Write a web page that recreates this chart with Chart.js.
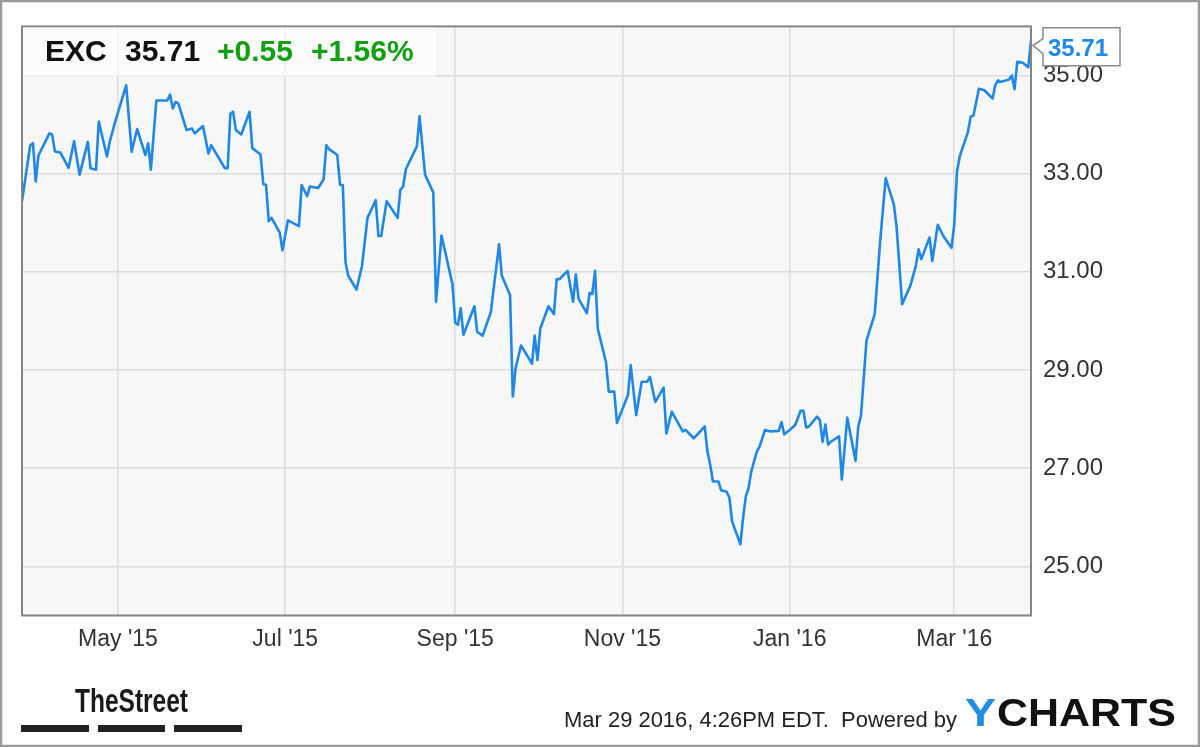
<!DOCTYPE html>
<html><head><meta charset="utf-8">
<script src="https://cdn.jsdelivr.net/npm/chart.js@4.4.0/dist/chart.umd.min.js"></script>
<style>html,body{margin:0;padding:0;background:#fff}#wrap{width:1200px;height:747px;position:relative}</style>
</head><body><div id="wrap"><canvas id="c" width="1200" height="747"></canvas></div>
<script>
// ---- data (days counted from 2015-03-27) ----
const ticker = 'EXC';
const lastPriceText = '35.71';
const changeText = '+0.55';
const changePctText = '+1.56%';
const days = [0,3,4,5,6,10,11,12,14,17,19,21,24,25,27,28,31,32,34,38,40,42,45,46,47,49,53,54,55,56,57,60,62,63,66,68,69,74,75,76,77,78,80,83,84,87,88,89,90,91,94,95,97,101,102,104,105,108,110,111,112,115,116,117,118,119,122,124,126,129,130,131,133,137,138,139,140,143,144,145,147,150,151,153,157,158,159,160,161,165,166,168,171,172,174,175,178,179,180,182,186,187,188,189,192,194,195,196,199,201,202,203,206,207,208,209,210,213,214,216,217,221,222,224,226,228,229,231,234,235,237,241,242,245,249,250,251,252,254,255,257,258,259,260,262,263,264,265,266,268,269,271,273,276,277,278,280,282,284,285,286,287,290,291,292,293,294,295,298,299,301,304,305,306,308,311,313,315,318,319,321,324,326,327,328,331,332,334,336,339,340,341,342,345,346,347,349,351,354,355,356,357,360,361,362,363,365,367,368];
const prices = [32.44,33.58,33.62,32.84,33.37,33.82,33.80,33.45,33.43,33.12,33.66,32.98,33.65,33.11,33.08,34.06,33.35,33.65,34.06,34.80,33.45,33.91,33.38,33.62,33.08,34.49,34.49,34.61,34.33,34.46,34.43,33.89,33.92,33.82,33.97,33.41,33.58,33.11,33.11,34.22,34.26,33.89,33.80,34.26,33.52,33.39,32.79,32.77,32.03,32.10,31.80,31.44,32.05,31.93,32.77,32.54,32.74,32.71,32.88,33.58,33.50,33.38,32.77,32.77,31.19,30.92,30.64,31.12,32.10,32.46,31.73,31.73,32.44,32.10,32.67,32.74,33.09,33.44,33.55,34.17,32.98,32.62,30.39,31.74,30.75,29.97,29.92,30.26,29.72,30.30,29.78,29.70,30.18,30.65,31.56,30.92,30.53,28.46,29.03,29.50,29.13,29.70,29.20,29.84,30.30,30.14,30.85,30.85,31.02,30.39,30.95,30.45,30.16,30.57,30.55,31.02,29.84,29.16,28.56,28.56,27.92,28.49,29.10,28.08,28.76,28.76,28.86,28.35,28.64,27.71,28.15,27.75,27.78,27.61,27.85,27.34,27.07,26.73,26.73,26.55,26.52,26.40,25.92,25.76,25.45,25.99,26.43,26.60,26.94,27.34,27.44,27.78,27.75,27.76,27.94,27.69,27.78,27.88,28.17,28.17,27.83,27.85,28.05,27.98,27.54,27.89,27.48,27.54,27.65,26.77,28.03,27.15,27.85,28.08,29.60,30.14,31.63,32.91,32.37,31.90,30.34,30.72,31.12,31.46,31.26,31.70,31.22,31.96,31.73,31.49,31.96,33.04,33.35,33.85,34.16,34.18,34.73,34.70,34.53,34.81,34.90,34.87,34.92,35.00,34.72,35.28,35.26,35.17,35.71];
const tickDays = [35,96,158,219,280,340];
const tickLabels = ["May '15","Jul '15","Sep '15","Nov '15","Jan '16","Mar '16"];
const yTicks = [25,27,29,31,33,35];
const footerText = 'Mar 29 2016, 4:26PM EDT.  Powered by';

const FONT = '"Liberation Sans", Arial, Helvetica, sans-serif';
const points = days.map((d, i) => ({x: d, y: prices[i]}));

function fitText(ctx, text, x, y, w) {
  const m = ctx.measureText(text).width;
  ctx.save();
  ctx.translate(x, y);
  ctx.scale(w / m, 1);
  ctx.fillText(text, 0, 0);
  ctx.restore();
}

const deco = {
  id: 'deco',
  beforeDraw(chart) {
    const {ctx, chartArea: a} = chart;
    ctx.save();
    ctx.fillStyle = '#ffffff';
    ctx.fillRect(0, 0, chart.width, chart.height);
    ctx.fillStyle = '#f7f7f7';
    ctx.fillRect(a.left, a.top, a.right - a.left, a.bottom - a.top);
    ctx.restore();
  },
  afterDraw(chart) {
    const {ctx, chartArea: a} = chart;
    const ys = chart.scales.y;
    ctx.save();
    // plot border
    ctx.strokeStyle = '#858585';
    ctx.lineWidth = 2;
    ctx.strokeRect(a.left, a.top, a.right - a.left, a.bottom - a.top);
    // header box
    ctx.fillStyle = 'rgba(255,255,255,0.6)';
    ctx.fillRect(a.left + 1, a.top + 1, 413, 49);
    ctx.textBaseline = 'alphabetic';
    ctx.textAlign = 'left';
    ctx.font = 'bold 30px ' + FONT;
    ctx.fillStyle = '#111';
    ctx.fillText(ticker, 45, 61);
    ctx.fillText(lastPriceText, 125, 61);
    ctx.fillStyle = '#12a012';
    ctx.fillText(changeText, 217, 61);
    ctx.fillText(changePctText, 311, 61);
    // price tag
    const yp = ys.getPixelForValue(prices[prices.length - 1]);
    const cy = yp + 6;
    ctx.beginPath();
    ctx.moveTo(1043, cy - 19);
    ctx.lineTo(1120, cy - 19);
    ctx.lineTo(1120, cy + 19);
    ctx.lineTo(1043, cy + 19);
    ctx.lineTo(1043, cy + 7);
    ctx.lineTo(1033, cy - 1);
    ctx.lineTo(1043, cy - 8);
    ctx.closePath();
    ctx.fillStyle = '#fff';
    ctx.fill();
    ctx.strokeStyle = '#8a8a8a';
    ctx.lineWidth = 1.5;
    ctx.stroke();
    ctx.fillStyle = '#1f88e6';
    ctx.font = 'bold 24px ' + FONT;
    ctx.fillText(lastPriceText, 1048, cy + 9);
    // TheStreet logo
    ctx.fillStyle = '#1a1a1a';
    ctx.font = 'bold 34px ' + FONT;
    fitText(ctx, 'TheStreet', 75, 712, 113);
    ctx.fillStyle = '#222';
    ctx.fillRect(21, 725, 68, 7);
    ctx.fillRect(98, 725, 67, 7);
    ctx.fillRect(174, 725, 68, 7);
    // footer
    ctx.fillStyle = '#222';
    ctx.font = '22px ' + FONT;
    fitText(ctx, footerText, 564, 727, 393);
    ctx.font = 'bold 39px ' + FONT;
    ctx.fillStyle = '#1f8fe6';
    fitText(ctx, 'Y', 965, 726, 31);
    ctx.fillStyle = '#111';
    fitText(ctx, 'CHARTS', 997, 726, 179);
    // outer border
    ctx.strokeStyle = '#9a9a9a';
    ctx.lineWidth = 2.5;
    ctx.strokeRect(1, 1, chart.width - 2, chart.height - 2);
    ctx.restore();
  }
};

new Chart(document.getElementById('c'), {
  type: 'line',
  data: {datasets: [{
    data: points,
    borderColor: '#1f88e6',
    borderWidth: 2.6,
    pointRadius: 0,
    tension: 0,
    borderJoinStyle: 'round',
    fill: false
  }]},
  options: {
    responsive: false,
    animation: false,
    devicePixelRatio: 1,
    layout: {padding: {left: 22, top: 21.5, right: 0, bottom: 0}},
    plugins: {legend: {display: false}, tooltip: {enabled: false}},
    scales: {
      x: {
        type: 'linear', min: 0, max: 368,
        afterBuildTicks: s => { s.ticks = tickDays.map(v => ({value: v})); },
        afterFit: s => { s.height = 131.5; },
        grid: {color: '#dcdcdc', lineWidth: 1.5, drawTicks: false},
        border: {display: false},
        ticks: {autoSkip: false, maxRotation: 0, padding: 10, color: '#333',
          font: {family: FONT, size: 23},
          callback: v => { const i = tickDays.indexOf(v); return i >= 0 ? tickLabels[i] : ''; }}
      },
      y: {
        position: 'right', min: 24, max: 36,
        afterBuildTicks: s => { s.ticks = yTicks.map(v => ({value: v})); },
        afterFit: s => { s.width = 169; },
        grid: {color: '#dcdcdc', lineWidth: 1.5, drawTicks: false},
        border: {display: false},
        ticks: {padding: 12, color: '#333', font: {family: FONT, size: 24},
          callback: v => Number(v).toFixed(2)}
      }
    }
  },
  plugins: [deco]
});
</script></body></html>
